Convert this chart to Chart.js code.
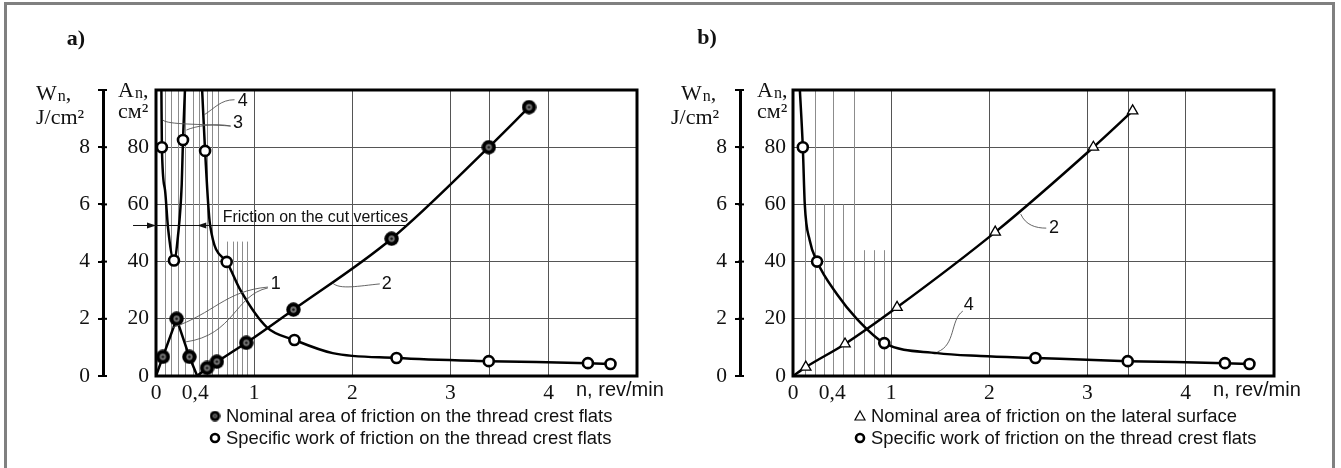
<!DOCTYPE html>
<html>
<head>
<meta charset="utf-8">
<script src="https://cdn.jsdelivr.net/npm/chart.js@4.4.1/dist/chart.umd.min.js"></script>
<style>
  body { margin: 0; background: #fff; width: 1341px; height: 468px; overflow: hidden; position: relative; }
  #frame { position: absolute; left: 4px; top: 2px; width: 1331px; height: 490px; border: 3px solid #808080; box-sizing: border-box; }
  .panel { position: absolute; top: 0; width: 690px; height: 468px; }
</style>
</head>
<body>
<div id="frame"></div>
<div class="panel" style="left:0"><canvas id="chartA" width="690" height="468"></canvas></div>
<div class="panel" style="left:637px"><canvas id="chartB" width="690" height="468"></canvas></div>

<script>
// axis ticks
const xTicks = [0, 0.4, 1, 2, 3, 4];
const xTickLabels = ['0', '0,4', '1', '2', '3', '4'];
const areaTicks = [0, 20, 40, 60, 80];
const workTicks = [0, 2, 4, 6, 8, 10];

// panel a) curve 1 - nominal area, thread crest flats (cm2)
const a1N = [0, 0.07, 0.21, 0.34, 0.42];
const a1A = [0, 6.7, 20, 6.7, 0];
const a1Mark = [0, 1, 1, 1, 0];
// curve 2 - nominal area, thread crest flats (cm2)
const a2N = [0.42, 0.52, 0.62, 0.92, 1.40, 2.40, 3.39, 3.80];
const a2A = [0, 2.8, 5.0, 11.6, 23.2, 48, 80, 94];
const a2Mark = [0, 1, 1, 1, 1, 1, 1, 1];
// curve 3 - specific work, cut vertices (J/cm2)
const a3N = [0.055, 0.06, 0.092, 0.122, 0.183, 0.224, 0.262, 0.275, 0.295];
const a3W = [10, 8.0, 6.5, 5.2, 4.04, 4.9, 6.7, 8.25, 10];
const a3Mark = [0, 1, 0, 0, 1, 0, 0, 1, 0];
// curve 4 - specific work, thread crest flats (J/cm2)
const a4N = [0.47, 0.50, 0.55, 0.72, 0.86, 1.13, 1.41, 1.80, 2.45, 3.39, 4.40, 4.63];
const a4W = [10, 7.87, 5.3, 3.99, 3.0, 1.7, 1.26, 0.80, 0.63, 0.52, 0.45, 0.42];
const a4Mark = [0, 1, 0, 1, 0, 0, 1, 0, 1, 1, 1, 1];

// panel b) curve 2 - nominal area, lateral surface (cm2)
const b2N = [0, 0.13, 0.53, 1.06, 2.06, 3.06, 3.46];
const b2A = [0, 3.1, 11.2, 24, 50.3, 80, 92.7];
const b2Mark = [0, 1, 1, 1, 1, 1, 1];
// curve 4 - specific work, thread crest flats (J/cm2)
const b4N = [0.07, 0.10, 0.12, 0.17, 0.245, 0.45, 0.65, 0.93, 1.47, 1.91, 2.47, 3.41, 4.40, 4.65];
const b4W = [10, 8.0, 6.0, 4.75, 4.0, 2.85, 2.0, 1.15, 0.80, 0.70, 0.63, 0.52, 0.45, 0.42];
const b4Mark = [0, 1, 0, 0, 1, 0, 0, 1, 0, 0, 1, 1, 1, 1];

const SERIF = '"Liberation Serif", "Times New Roman", serif';
const SANS = '"Liberation Sans", Arial, sans-serif';

// marker: black disc with a grey ring and a dark centre
function dotMarker(size) {
  const c = document.createElement('canvas');
  c.width = c.height = size;
  const g = c.getContext('2d');
  const m = size / 2;
  g.fillStyle = '#000';
  g.beginPath(); g.arc(m, m, m - 0.3, 0, Math.PI * 2); g.fill();
  g.fillStyle = '#777';
  g.beginPath(); g.arc(m, m, m * 0.42, 0, Math.PI * 2); g.fill();
  g.fillStyle = '#111';
  g.beginPath(); g.arc(m, m, m * 0.17, 0, Math.PI * 2); g.fill();
  return c;
}
const dotImg = dotMarker(15);
const dotSmall = dotMarker(11);

const pts = (xs, ys) => xs.map((x, i) => ({ x: x, y: ys[i] }));

function areaSet(xs, ys, marks, style, tension) {
  return {
    data: pts(xs, ys), yAxisID: 'yA',
    borderColor: '#000', borderWidth: 2.5,
    cubicInterpolationMode: tension ? 'monotone' : 'default', tension: 0,
    pointStyle: style === 'tri' ? 'triangle' : dotImg,
    pointRadius: marks.map(m => m ? 6 : 0),
    pointBackgroundColor: '#fff', pointBorderColor: '#000', pointBorderWidth: 1.3
  };
}
function workSet(xs, ys, marks) {
  return {
    data: pts(xs, ys), yAxisID: 'yW',
    borderColor: '#000', borderWidth: 2.5,
    cubicInterpolationMode: 'monotone',
    pointStyle: 'circle',
    pointRadius: marks.map(m => m ? 5 : 0),
    pointBackgroundColor: '#fff', pointBorderColor: '#000', pointBorderWidth: 2.6
  };
}

function drawMarker(ctx, kind, x, y) {
  ctx.save();
  if (kind === 'dot') {
    ctx.drawImage(dotSmall, x - 5.5, y - 5.5);
  } else if (kind === 'circle') {
    ctx.beginPath(); ctx.arc(x, y, 4, 0, Math.PI * 2);
    ctx.fillStyle = '#fff'; ctx.fill();
    ctx.lineWidth = 2.6; ctx.strokeStyle = '#000'; ctx.stroke();
  } else {
    ctx.beginPath(); ctx.moveTo(x, y - 5); ctx.lineTo(x + 5, y + 4); ctx.lineTo(x - 5, y + 4); ctx.closePath();
    ctx.lineWidth = 1.2; ctx.strokeStyle = '#000'; ctx.stroke();
  }
  ctx.restore();
}

// "Wn," style title with a subscript
function subTitle(ctx, main, sub, tail, x, y) {
  ctx.font = '22px ' + SERIF;
  ctx.textAlign = 'left'; ctx.textBaseline = 'alphabetic';
  ctx.fillText(main, x, y);
  let w = ctx.measureText(main).width;
  ctx.font = '16px ' + SERIF;
  ctx.fillText(sub, x + w + 1, y + 1);
  w += ctx.measureText(sub).width + 1;
  ctx.font = '22px ' + SERIF;
  ctx.fillText(tail, x + w, y);
}

const annoPlugin = {
  id: 'anno',
  beforeDatasetsDraw(chart, args, o) {
    const { ctx, chartArea: a, scales: { x, yA } } = chart;
    ctx.save();
    ctx.lineWidth = 1;
    ctx.strokeStyle = '#555';
    o.extraGrid.forEach(n => {
      const px = Math.round(x.getPixelForValue(n)) + 0.5;
      ctx.beginPath(); ctx.moveTo(px, a.top); ctx.lineTo(px, a.bottom); ctx.stroke();
    });
    ctx.strokeStyle = '#8c8c8c';
    o.hatch.forEach(h => {
      const px = Math.round(x.getPixelForValue(h[0])) + 0.5;
      ctx.beginPath(); ctx.moveTo(px, yA.getPixelForValue(h[1])); ctx.lineTo(px, a.bottom); ctx.stroke();
    });
    ctx.restore();
  },
  afterDraw(chart, args, o) {
    const { ctx, chartArea: a, scales: { x, yA, yW } } = chart;
    const P = (n, v) => [x.getPixelForValue(n), yA.getPixelForValue(v)];
    ctx.save();
    // plot frame
    ctx.lineWidth = 3; ctx.strokeStyle = '#000';
    ctx.strokeRect(a.left, a.top, a.right - a.left, a.bottom - a.top);
    // W axis tick stubs on the inner side
    ctx.lineWidth = 2;
    workTicks.forEach(v => {
      const py = yW.getPixelForValue(v);
      ctx.beginPath(); ctx.moveTo(yW.right - 2, py); ctx.lineTo(yW.right + 4, py); ctx.stroke();
    });
    ctx.fillStyle = '#111';
    // panel letter
    ctx.font = 'bold 22px ' + SERIF; ctx.textAlign = 'center'; ctx.textBaseline = 'middle';
    ctx.fillText(o.letter[0], o.letter[1], o.letter[2]);
    // axis titles
    subTitle(ctx, 'W', 'n', ',', o.wTitle[0], o.wTitle[1]);
    ctx.font = '22px ' + SERIF; ctx.fillText('J/cm²', o.wTitle[0] + o.wTitle[2], o.wTitle[1] + 24);
    subTitle(ctx, 'A', 'n', ',', o.aTitle[0], o.aTitle[1]);
    ctx.font = '22px ' + SERIF; ctx.fillText('см²', o.aTitle[0], o.aTitle[1] + 21);
    ctx.font = '20px ' + SANS; ctx.textBaseline = 'middle'; ctx.textAlign = 'left';
    ctx.fillText('n, rev/min', a.right - 61, a.bottom + 14);
    // legend
    ctx.font = '18.4px ' + SANS;
    o.legend.forEach((it, i) => {
      const ly = o.legendY + i * 22;
      drawMarker(ctx, it[0], o.legendX, ly);
      ctx.fillStyle = '#111';
      ctx.fillText(it[1], o.legendX + 11, ly + 1);
    });
    // leader lines
    ctx.lineWidth = 0.9; ctx.strokeStyle = '#555';
    o.leaders.forEach(l => {
      const p0 = P(l[0], l[1]), p1 = P(l[2], l[3]), p2 = P(l[4], l[5]), p3 = P(l[6], l[7]);
      ctx.beginPath(); ctx.moveTo(p0[0], p0[1]);
      ctx.bezierCurveTo(p1[0], p1[1], p2[0], p2[1], p3[0], p3[1]);
      ctx.stroke();
    });
    ctx.font = '18px ' + SANS; ctx.textAlign = 'center'; ctx.fillStyle = '#111';
    o.labels.forEach(l => { const p = P(l[1], l[2]); ctx.fillText(l[0], p[0], p[1]); });
    // dimension arrow
    if (o.friction) {
      const f = o.friction;
      const l0 = P(f.from, f.level), l1 = P(f.to, f.level);
      ctx.lineWidth = 1; ctx.strokeStyle = '#111';
      ctx.beginPath(); ctx.moveTo(l0[0], l0[1] + 0.5); ctx.lineTo(l1[0], l1[1] + 0.5); ctx.stroke();
      f.heads.forEach(h => {
        const t = P(h[0], f.level);
        ctx.beginPath(); ctx.moveTo(t[0], t[1] + 0.5);
        ctx.lineTo(t[0] - h[1] * 9, t[1] - 2.5); ctx.lineTo(t[0] - h[1] * 9, t[1] + 3.5); ctx.closePath();
        ctx.fillStyle = '#111'; ctx.fill();
      });
      const tp = P(f.textN, f.textA);
      ctx.font = '15.9px ' + SANS; ctx.textAlign = 'left';
      ctx.fillText(f.text, tp[0], tp[1]);
    }
    ctx.restore();
  }
};

function makeChart(id, datasets, anno) {
  return new Chart(document.getElementById(id), {
    type: 'line',
    data: { datasets: datasets },
    options: {
      responsive: false,
      animation: false,
      layout: { padding: { left: 63, right: 53, top: 90, bottom: 62 } },
      plugins: { legend: { display: false }, tooltip: { enabled: false }, anno: anno },
      scales: {
        x: {
          type: 'linear', min: 0, max: 4.9,
          afterBuildTicks: s => { s.ticks = xTicks.map(v => ({ value: v })); },
          afterFit: s => { s.height = 30; },
          border: { display: false },
          grid: { drawTicks: false, lineWidth: 1, color: c => (c.tick && c.tick.value >= 1) ? '#555' : 'rgba(0,0,0,0)' },
          ticks: {
            autoSkip: false, maxRotation: 0, padding: 4, color: '#111',
            font: { family: SERIF, size: 21.5 },
            callback: v => { const i = xTicks.indexOf(v); return i < 0 ? '' : xTickLabels[i]; }
          }
        },
        yA: {
          position: 'left', weight: 0, min: 0, max: 100,
          afterBuildTicks: s => { s.ticks = areaTicks.map(v => ({ value: v })); },
          afterFit: s => { s.width = 53; },
          border: { display: false },
          grid: { drawTicks: false, lineWidth: 1, color: c => (c.tick && c.tick.value > 0) ? '#555' : 'rgba(0,0,0,0)' },
          ticks: { padding: 7, color: '#111', font: { family: SERIF, size: 21.5 } }
        },
        yW: {
          position: 'left', weight: 1, min: 0, max: 10,
          afterBuildTicks: s => { s.ticks = workTicks.map(v => ({ value: v })); },
          afterFit: s => { s.width = 40; },
          border: { display: true, width: 3, color: '#000' },
          grid: { drawOnChartArea: false, drawTicks: true, tickLength: 5, tickColor: '#000', lineWidth: 2 },
          ticks: { padding: 8, color: '#111', font: { family: SERIF, size: 21.5 }, callback: v => v === 10 ? '' : v }
        }
      }
    },
    plugins: [annoPlugin]
  });
}

makeChart('chartA', [
  areaSet(a1N, a1A, a1Mark, 'dot', false),
  areaSet(a2N, a2A, a2Mark, 'dot', true),
  workSet(a3N, a3W, a3Mark),
  workSet(a4N, a4W, a4Mark)
], {
  letter: ['a)', 76, 39],
  wTitle: [36, 100, 0],
  aTitle: [118, 97],
  legendX: 215, legendY: 416,
  legend: [['dot', 'Nominal area of friction on the thread crest flats'],
           ['circle', 'Specific work of friction on the thread crest flats']],
  extraGrid: [3.39],
  hatch: [[0.09, 100], [0.15, 100], [0.22, 100], [0.30, 100], [0.38, 100], [0.44, 100],
          [0.52, 100], [0.57, 100], [0.63, 100], [0.72, 47], [0.78, 47], [0.83, 47], [0.88, 47], [0.93, 47]],
  leaders: [
    [0.49, 91.3, 0.60, 93.7, 0.66, 96.6, 0.80, 96.6],
    [0.07, 89.5, 0.12, 87.8, 0.45, 88.2, 0.76, 87.4],
    [0.31, 86.0, 0.40, 87.4, 0.60, 88.5, 0.76, 87.4],
    [0.16, 16.8, 0.60, 22.0, 0.70, 29.7, 1.14, 31.1],
    [0.30, 11.9, 0.80, 14.3, 0.80, 28.3, 1.14, 30.8],
    [1.80, 32.5, 1.87, 30.1, 2.07, 31.5, 2.28, 32.2]
  ],
  labels: [['4', 0.885, 96.2], ['3', 0.835, 88.5], ['1', 1.22, 32.2], ['2', 2.35, 32.2]],
  friction: {
    level: 52.8, from: -0.234, to: 2.565,
    heads: [[0.0, 1], [0.42, -1]],
    text: 'Friction on the cut vertices', textN: 0.68, textA: 55.4
  }
});

makeChart('chartB', [
  areaSet(b2N, b2A, b2Mark, 'tri', true),
  workSet(b4N, b4W, b4Mark)
], {
  letter: ['b)', 70, 38],
  wTitle: [44, 100, -10],
  aTitle: [120, 97],
  legendX: 223, legendY: 416,
  legend: [['tri', 'Nominal area of friction on the lateral surface'],
           ['circle', 'Specific work of friction on the thread crest flats']],
  extraGrid: [3.41],
  hatch: [[0.12, 60], [0.22, 100], [0.32, 60], [0.41, 100], [0.51, 60], [0.62, 100],
          [0.72, 44], [0.83, 44], [0.93, 44]],
  leaders: [
    [2.32, 56.6, 2.37, 52.8, 2.47, 51.7, 2.58, 51.7],
    [1.47, 8.4, 1.66, 10.8, 1.60, 19.6, 1.73, 22.7]
  ],
  labels: [['2', 2.66, 51.7], ['4', 1.79, 24.8]],
  friction: null
});
</script>
</body>
</html>
